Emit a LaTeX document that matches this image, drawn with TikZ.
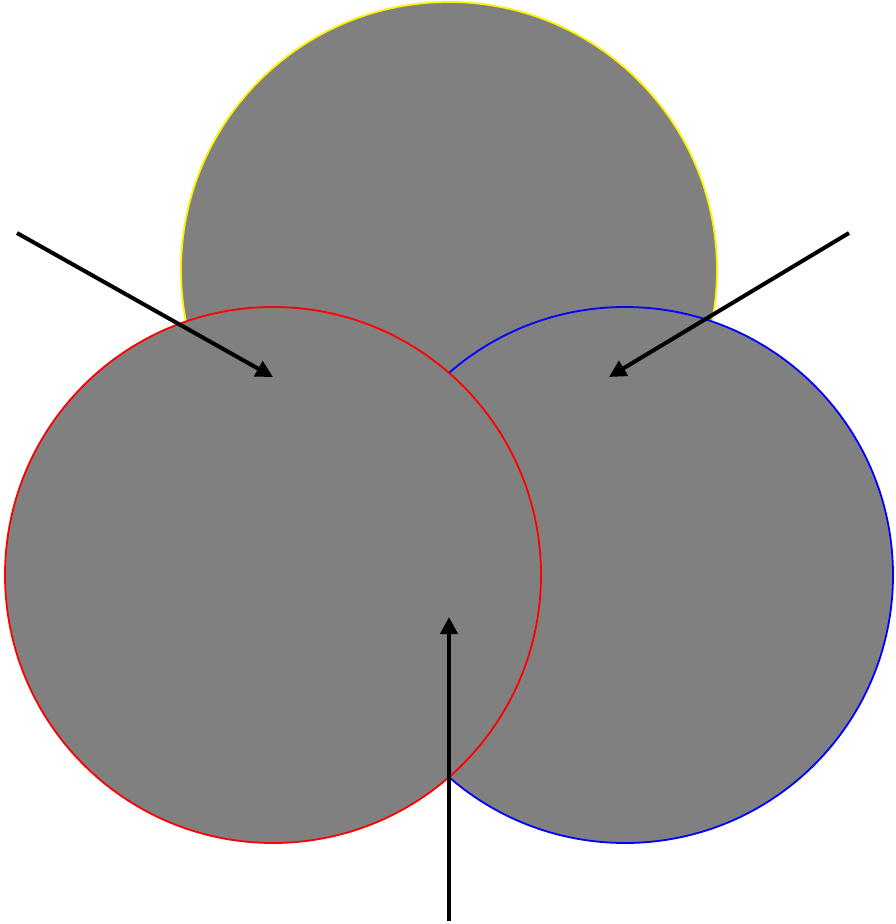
\documentclass[tikz,border=0pt]{standalone}
\usetikzlibrary{arrows.meta}
\begin{document}
\begin{tikzpicture}[x=1pt,y=-1pt,
  disc/.style={circle,fill=gray,draw,line width=1.8pt,minimum size=536pt,inner sep=0pt},
  pointer/.style={line width=4pt,-{Triangle[length=17pt,width=17pt]}}]
\useasboundingbox (0,0) rectangle (895,924);
\node[disc,draw=yellow] (y) at (449,270) {};
\node[disc,draw=blue] (b) at (625,575) {};
\node[disc,draw=red] (r) at (273,575) {};
\coordinate (s1) at (17,233);
\coordinate (e1) at (273,377);
\coordinate (s2) at (849,233);
\coordinate (e2) at (609,377);
\coordinate (s3) at (449,921);
\coordinate (e3) at (449,617);
\draw[pointer] (s1) -- (e1);
\draw[pointer] (s2) -- (e2);
\draw[pointer] (s3) -- (e3);
\end{tikzpicture}
\end{document}
